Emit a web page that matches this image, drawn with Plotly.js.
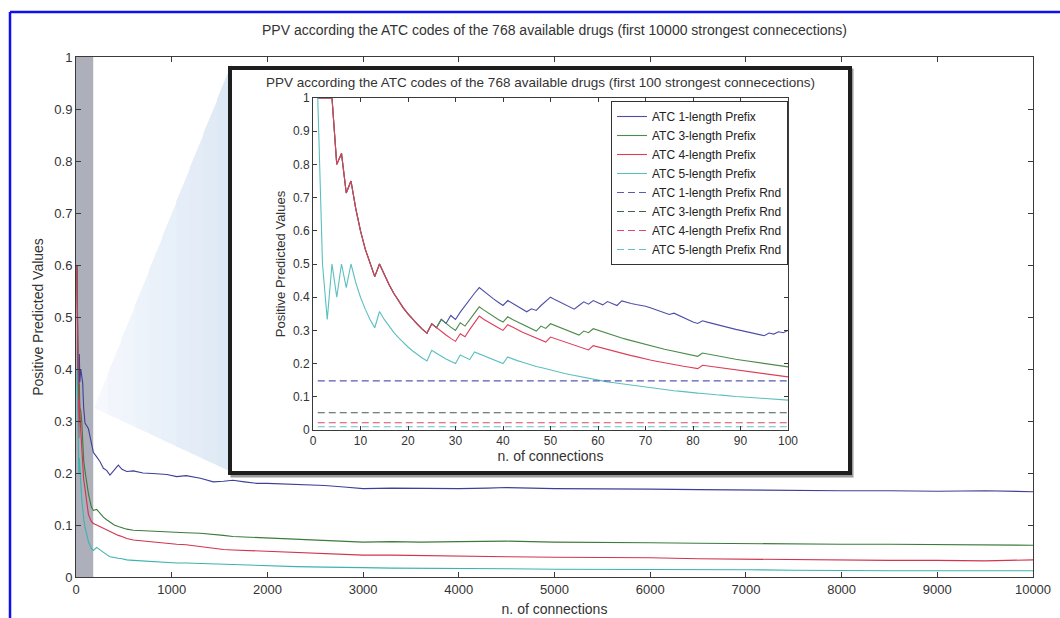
<!DOCTYPE html>
<html>
<head>
<meta charset="utf-8">
<script src="https://cdn.plot.ly/plotly-3.0.1.min.js"></script>
<style>
  html, body { margin: 0; padding: 0; background: #ffffff; }
  #chart { width: 1060px; height: 618px; }
</style>
</head>
<body>
<div id="chart"></div>
<script>
// ---------------- DATA ----------------
const seriesNames = ["ATC 1-length Prefix", "ATC 3-length Prefix", "ATC 4-length Prefix", "ATC 5-length Prefix"];
const rndNames = ["ATC 1-length Prefix Rnd", "ATC 3-length Prefix Rnd", "ATC 4-length Prefix Rnd", "ATC 5-length Prefix Rnd"];

// Main chart (first 10000 strongest connections)
const mainX = [10, 14, 20, 25, 30, 35, 40, 50, 60, 70, 80, 94, 130, 160, 181, 216, 250, 286, 320, 355, 400, 442, 480, 530, 600, 700, 800, 877, 950, 1052, 1150, 1300, 1435, 1540, 1640, 1760, 1888, 2000, 2300, 2600, 2800, 3000, 3300, 3600, 4000, 4300, 4500, 5000, 5500, 6000, 6500, 7000, 7500, 8000, 8500, 9000, 9500, 10000];
const mainBlue = [0.60, 0.50, 0.35, 0.32, 0.333, 0.429, 0.375, 0.40, 0.383, 0.373, 0.325, 0.296, 0.285, 0.262, 0.24, 0.231, 0.222, 0.209, 0.205, 0.196, 0.206, 0.215, 0.207, 0.203, 0.204, 0.20, 0.199, 0.198, 0.197, 0.193, 0.195, 0.190, 0.183, 0.184, 0.186, 0.183, 0.180, 0.180, 0.178, 0.176, 0.173, 0.170, 0.171, 0.170, 0.170, 0.171, 0.172, 0.170, 0.170, 0.169, 0.168, 0.167, 0.167, 0.166, 0.166, 0.165, 0.166, 0.164];
const mainGreen = [0.60, 0.50, 0.35, 0.32, 0.30, 0.371, 0.325, 0.32, 0.30, 0.257, 0.225, 0.204, 0.16, 0.135, 0.128, 0.13, 0.122, 0.115, 0.11, 0.105, 0.10, 0.097, 0.095, 0.092, 0.09, 0.089, 0.088, 0.088, 0.087, 0.085, 0.085, 0.084, 0.081, 0.080, 0.078, 0.077, 0.076, 0.074, 0.072, 0.070, 0.068, 0.067, 0.068, 0.067, 0.068, 0.068, 0.069, 0.067, 0.067, 0.066, 0.065, 0.064, 0.064, 0.063, 0.063, 0.062, 0.062, 0.061];
const mainRed = [0.60, 0.50, 0.35, 0.32, 0.267, 0.343, 0.30, 0.28, 0.25, 0.214, 0.188, 0.17, 0.12, 0.107, 0.103, 0.10, 0.097, 0.094, 0.09, 0.088, 0.083, 0.08, 0.078, 0.074, 0.071, 0.069, 0.067, 0.066, 0.065, 0.063, 0.062, 0.058, 0.055, 0.053, 0.052, 0.051, 0.050, 0.049, 0.047, 0.045, 0.043, 0.042, 0.042, 0.041, 0.041, 0.040, 0.039, 0.038, 0.038, 0.037, 0.035, 0.034, 0.034, 0.032, 0.032, 0.032, 0.031, 0.033];
const mainCyan = [0.40, 0.357, 0.25, 0.24, 0.20, 0.229, 0.20, 0.18, 0.15, 0.129, 0.113, 0.096, 0.068, 0.055, 0.051, 0.057, 0.052, 0.047, 0.043, 0.039, 0.037, 0.036, 0.035, 0.033, 0.032, 0.031, 0.029, 0.029, 0.028, 0.027, 0.027, 0.026, 0.025, 0.025, 0.024, 0.023, 0.022, 0.021, 0.020, 0.019, 0.019, 0.018, 0.017, 0.017, 0.016, 0.016, 0.016, 0.015, 0.015, 0.014, 0.014, 0.014, 0.013, 0.012, 0.012, 0.012, 0.012, 0.012];

// Inset chart (first 100 strongest connections)
const insetX = [1,2,3,4,5,6,7,8,9,10,11,12,13,14,15,16,17,18,19,20,21,22,23,24,25,26,27,28,29,30,31,32,33,34,35,36,37,38,39,40,41,42,43,44,45,46,47,48,49,50,51,52,53,54,55,56,57,58,59,60,61,62,63,64,65,66,67,68,69,70,71,72,73,74,75,76,77,78,79,80,81,82,83,84,85,86,87,88,89,90,91,92,93,94,95,96,97,98,99,100];
const insetBlue = [1,1,1,1,0.8,0.833,0.714,0.75,0.667,0.6,
  0.545,0.5,0.462,0.5,0.467,0.438,0.412,0.389,0.368,0.35,
  0.333,0.318,0.304,0.292,0.32,0.308,0.333,0.321,0.345,0.333,
  0.355,0.375,0.394,0.412,0.429,0.417,0.405,0.395,0.385,0.375,
  0.39,0.381,0.372,0.364,0.356,0.365,0.36,0.375,0.388,0.4,
  0.392,0.385,0.377,0.37,0.364,0.375,0.386,0.379,0.39,0.383,
  0.377,0.387,0.381,0.375,0.389,0.384,0.381,0.378,0.376,0.373,
  0.368,0.363,0.358,0.353,0.348,0.352,0.345,0.338,0.331,0.325,
  0.321,0.329,0.325,0.321,0.318,0.314,0.31,0.307,0.303,0.3,
  0.297,0.293,0.29,0.287,0.284,0.292,0.289,0.296,0.293,0.3];
const insetGreen = [1,1,1,1,0.8,0.833,0.714,0.75,0.667,0.6,
  0.545,0.5,0.462,0.5,0.467,0.438,0.412,0.389,0.368,0.35,
  0.333,0.318,0.304,0.292,0.32,0.308,0.333,0.321,0.31,0.3,
  0.323,0.313,0.333,0.353,0.371,0.361,0.351,0.342,0.333,0.325,
  0.341,0.333,0.326,0.318,0.311,0.304,0.298,0.313,0.306,0.32,
  0.314,0.308,0.302,0.296,0.291,0.286,0.298,0.293,0.305,0.3,
  0.295,0.29,0.286,0.281,0.277,0.273,0.269,0.265,0.261,0.257,
  0.254,0.25,0.247,0.243,0.24,0.237,0.234,0.231,0.228,0.225,
  0.222,0.232,0.229,0.226,0.224,0.221,0.218,0.216,0.213,0.211,
  0.209,0.207,0.204,0.202,0.2,0.198,0.196,0.194,0.192,0.19];
const insetRed = [1,1,1,1,0.8,0.833,0.714,0.75,0.667,0.6,
  0.545,0.5,0.462,0.5,0.467,0.438,0.412,0.389,0.368,0.35,
  0.333,0.318,0.304,0.292,0.32,0.308,0.296,0.286,0.276,0.267,
  0.29,0.281,0.303,0.324,0.343,0.333,0.324,0.316,0.308,0.3,
  0.317,0.31,0.302,0.295,0.289,0.283,0.277,0.271,0.265,0.28,
  0.275,0.269,0.264,0.259,0.255,0.25,0.246,0.241,0.254,0.25,
  0.246,0.242,0.238,0.234,0.231,0.227,0.224,0.221,0.217,0.214,
  0.211,0.208,0.205,0.203,0.2,0.197,0.195,0.192,0.19,0.188,
  0.185,0.195,0.193,0.19,0.188,0.186,0.184,0.182,0.18,0.178,
  0.176,0.174,0.172,0.17,0.168,0.167,0.165,0.163,0.162,0.16];
const insetCyan = [1,0.5,0.333,0.5,0.4,0.5,0.429,0.5,0.444,0.4,
  0.364,0.333,0.308,0.357,0.333,0.313,0.294,0.278,0.263,0.25,
  0.238,0.227,0.217,0.208,0.24,0.231,0.222,0.214,0.207,0.2,
  0.226,0.219,0.212,0.235,0.229,0.222,0.216,0.211,0.205,0.2,
  0.22,0.214,0.209,0.205,0.2,0.196,0.191,0.188,0.184,0.18,
  0.176,0.173,0.17,0.167,0.164,0.161,0.158,0.155,0.153,0.15,
  0.148,0.145,0.143,0.141,0.138,0.136,0.134,0.132,0.13,0.129,
  0.127,0.125,0.123,0.122,0.12,0.118,0.117,0.115,0.114,0.113,
  0.111,0.11,0.108,0.107,0.106,0.105,0.103,0.102,0.101,0.1,
  0.099,0.098,0.097,0.096,0.095,0.094,0.093,0.092,0.091,0.09];
const rndValues = [0.148, 0.052, 0.022, 0.01];

const mainTitle = "PPV according the ATC codes of the 768 available drugs (first 10000 strongest connecections)";
const insetTitle = "PPV according the ATC codes of the 768 available drugs (first 100 strongest connecections)";
const yTitle = "Positive Predicted Values";
const xTitle = "n. of connections";
const mainXTicks = [0,1000,2000,3000,4000,5000,6000,7000,8000,9000,10000];
const yTicks = [0,0.1,0.2,0.3,0.4,0.5,0.6,0.7,0.8,0.9,1];
const insetXTicks = [0,10,20,30,40,50,60,70,80,90,100];

// ---------------- STYLE ----------------
const FONT = "Liberation Sans, Arial, Helvetica, sans-serif";
const TXT = "#333333";
const mainColors = ["#3f3f98", "#3b7b3b", "#d2334e", "#3cb2b2"];
const insetColors = ["#4d4da8", "#4b8b4b", "#de3d5a", "#5bbfbf"];
const rndColors = ["#5a5aae", "#3f5f4f", "#de4a6a", "#66c2c2"];

const W = 1060, H = 618;
const M = {l: 76, r: 27, t: 57, b: 41};
const PW = W - M.l - M.r, PH = H - M.t - M.b;
const px = v => (v - M.l) / PW;          // pixel x -> paper x
const py = v => (H - M.b - v) / PH;      // pixel y -> paper y

const mainYs = [mainBlue, mainGreen, mainRed, mainCyan];
const insetYs = [insetBlue, insetGreen, insetRed, insetCyan];

const traces = [];
mainYs.forEach((ys, i) => traces.push({
  x: mainX, y: ys, type: "scatter", mode: "lines", xaxis: "x", yaxis: "y",
  name: seriesNames[i], showlegend: false,
  line: {color: mainColors[i], width: 1.1}
}));
insetYs.forEach((ys, i) => traces.push({
  x: insetX, y: ys, type: "scatter", mode: "lines", xaxis: "x2", yaxis: "y2",
  name: seriesNames[i], legendrank: i + 1,
  line: {color: insetColors[i], width: 1.1}
}));
rndValues.forEach((v, i) => traces.push({
  x: [insetX[0], insetX[insetX.length - 1]], y: [v, v], type: "scatter", mode: "lines",
  xaxis: "x2", yaxis: "y2", name: rndNames[i], legendrank: i + 5,
  line: {color: rndColors[i], width: 1.1, dash: "7px,4px"}
}));

const axisCommon = {
  showline: true, linecolor: "#3a3a3a", linewidth: 1, mirror: "ticks",
  ticks: "inside", tickcolor: "#3a3a3a", showgrid: false, zeroline: false
};

// light-blue zoom wedge, drawn as vertical strips fading towards the apex
const apex = [94, 408], topEnd = [231, 64], botEnd = [231, 472];
const wedgeShapes = [];
const nStrips = 10;
for (let k = 0; k < nStrips; k++) {
  const xa = apex[0] + (topEnd[0] - apex[0]) * k / nStrips;
  const xb = apex[0] + (topEnd[0] - apex[0]) * (k + 1) / nStrips + 0.6;
  const ta = apex[1] + (topEnd[1] - apex[1]) * k / nStrips;
  const tb = apex[1] + (topEnd[1] - apex[1]) * (k + 1) / nStrips;
  const ba = apex[1] + (botEnd[1] - apex[1]) * k / nStrips;
  const bb = apex[1] + (botEnd[1] - apex[1]) * (k + 1) / nStrips;
  const f = (k + 0.5) / nStrips;
  const r = Math.round(246 - 26 * f), g = Math.round(249 - 17 * f), b = Math.round(253 - 8 * f);
  wedgeShapes.push({
    type: "path", xref: "paper", yref: "paper", layer: "below",
    path: `M ${px(xa)},${py(ta)} L ${px(xb)},${py(tb)} L ${px(xb)},${py(bb)} L ${px(xa)},${py(ba)} Z`,
    fillcolor: `rgb(${r},${g},${b})`, line: {width: 0}
  });
}

const layout = {
  width: W, height: H,
  margin: M,
  paper_bgcolor: "#ffffff",
  plot_bgcolor: "rgba(0,0,0,0)",
  font: {family: FONT, color: TXT},
  showlegend: true,
  hovermode: false,
  title: {
    text: mainTitle, x: 0.5, xanchor: "center", xref: "paper",
    y: 1 - 30 / H, yanchor: "middle", yref: "container",
    font: {family: FONT, size: 14, color: TXT}
  },
  xaxis: Object.assign({}, axisCommon, {
    domain: [0, 1], range: [0, 10000], tickvals: mainXTicks, tickformat: "d",
    ticklen: 5, tickfont: {family: FONT, size: 13, color: TXT},
    title: {text: xTitle, font: {family: FONT, size: 14, color: TXT}, standoff: 8}
  }),
  yaxis: Object.assign({}, axisCommon, {
    domain: [0, 1], range: [0, 1], tickvals: yTicks,
    ticklen: 5, tickfont: {family: FONT, size: 13, color: TXT},
    title: {text: yTitle, font: {family: FONT, size: 14, color: TXT}, standoff: 7}
  }),
  xaxis2: Object.assign({}, axisCommon, {
    domain: [px(313), px(788)], range: [0, 100], tickvals: insetXTicks, anchor: "y2",
    ticklen: 4, tickfont: {family: FONT, size: 12, color: TXT},
    title: {text: xTitle, font: {family: FONT, size: 14, color: TXT}, standoff: 2}
  }),
  yaxis2: Object.assign({}, axisCommon, {
    domain: [py(430), py(98)], range: [0, 1], tickvals: yTicks, anchor: "x2",
    ticklen: 4, tickfont: {family: FONT, size: 12, color: TXT},
    title: {text: yTitle, font: {family: FONT, size: 13, color: TXT}, standoff: 4}
  }),
  legend: {
    x: px(788), xanchor: "right", y: py(101), yanchor: "top",
    bgcolor: "#ffffff", bordercolor: "#333", borderwidth: 1,
    font: {family: FONT, size: 12, color: "#222"},
    tracegroupgap: 0, itemwidth: 30
  },
  annotations: [{
    text: insetTitle, xref: "paper", yref: "paper",
    x: px(540), y: py(82), xanchor: "center", yanchor: "middle",
    showarrow: false, borderpad: 0, font: {family: FONT, size: 13.5, color: TXT}
  }],
  shapes: wedgeShapes.concat([
    // inset panel (shadow, then framed white panel)
    {type: "rect", xref: "paper", yref: "paper", layer: "below",
     x0: px(232), x1: px(852), y0: py(476), y1: py(70),
     fillcolor: "rgba(0,0,0,0)", line: {color: "#9a9a9a", width: 3}},
    {type: "rect", xref: "paper", yref: "paper", layer: "below",
     x0: px(230), x1: px(850), y0: py(473), y1: py(68),
     fillcolor: "#ffffff", line: {color: "#1e1e1e", width: 4}},
    // grey highlighted region of the first connections
    {type: "rect", xref: "x", yref: "y", layer: "below",
     x0: 0, x1: 180, y0: 0, y1: 1, fillcolor: "#adb0ba", line: {width: 0}},
    // blue frame
    {type: "line", xref: "paper", yref: "paper", layer: "above",
     x0: px(10), x1: px(1065), y0: py(12), y1: py(12), line: {color: "#1010ee", width: 2.5}},
    {type: "line", xref: "paper", yref: "paper", layer: "above",
     x0: px(10), x1: px(10), y0: py(12), y1: py(625), line: {color: "#1010ee", width: 2.5}}
  ])
};

Plotly.newPlot("chart", traces, layout, {displayModeBar: false, staticPlot: true});
</script>
</body>
</html>
